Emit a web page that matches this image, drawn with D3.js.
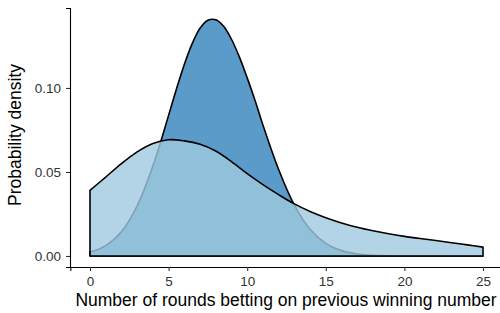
<!DOCTYPE html>
<html>
<head>
<meta charset="utf-8">
<script src="https://cdn.jsdelivr.net/npm/d3@7"></script>
<style>
  body { margin: 0; background: #fff; }
  text { font-family: "Liberation Sans", Arial, sans-serif; }
</style>
</head>
<body>
<svg id="chart" width="500" height="313"></svg>
<script>
// narrow (dark) density, read finer around its peak
var roundsA = [0,1,2,3,4,5,5.5,6,6.5,7,7.5,8,8.5,9,9.5,10,10.5,11,12,13,14,15,16,17,18,19,20,21,22,23,24,25];
var densityA = [0.0023,0.0062,0.0144,0.0298,0.0535,0.0837,0.0994,0.114,0.1264,0.1355,0.1403,0.1406,0.1367,0.129,0.1185,0.106,0.0926,0.078,0.0515,0.0303,0.0159,0.0075,0.0032,0.0012,0.0004,0.0001,0,0,0,0,0,0];
// wide (light) density
var roundsB = [0,1,2,3,4,5,6,7,8,9,10,11,12,13,14,15,16,17,18,19,20,21,22,23,24,25];
var densityB = [0.039,0.047,0.055,0.062,0.067,0.0692,0.0685,0.0665,0.0625,0.0562,0.049,0.0425,0.0365,0.031,0.0265,0.0228,0.0197,0.0171,0.015,0.0132,0.0117,0.0104,0.0092,0.0079,0.0066,0.0053];
var xTicks = [0,5,10,15,20,25];
var yTicks = [0,0.05,0.10];

var svg = d3.select("#chart");

var x = d3.scaleLinear().domain([-1.25, 26.25]).range([70.35, 502.65]);
var y = d3.scaleLinear().domain([-0.00655, 0.1476]).range([267, 8]);

function areaPath(xs, vals) {
  var pts = xs.map(function(r,i) { return [r, vals[i]]; });
  var area = d3.area()
    .x(function(d) { return x(d[0]); })
    .y0(y(0)).y1(function(d) { return y(Math.max(0, d[1])); })
    .curve(d3.curveCatmullRom.alpha(0.5));
  return area(pts) ;
}

svg.append("path").attr("d", areaPath(roundsA, densityA))
  .style("fill", "#5b9bc9").style("stroke", "#000").style("stroke-width", 1.6)
  .style("stroke-linejoin", "round");

svg.append("path").attr("d", areaPath(roundsB, densityB))
  .style("fill", "rgb(159,201,224)").style("fill-opacity", 0.8)
  .style("stroke", "#000").style("stroke-width", 1.6)
  .style("stroke-linejoin", "round");

// axes
var xAxis = svg.append("g").attr("transform", "translate(0,267)")
  .call(d3.axisBottom(x).tickValues(xTicks).tickSize(4).tickPadding(5).tickFormat(d3.format("d")));
var yAxis = svg.append("g").attr("transform", "translate(70,0)")
  .call(d3.axisLeft(y).tickValues(yTicks).tickSize(4).tickPadding(5).tickFormat(d3.format(".2f")));

[xAxis, yAxis].forEach(function(g) {
  g.select(".domain").style("stroke", "#000").style("stroke-width", 1.1);
  g.selectAll(".tick line").style("stroke", "#333").style("stroke-width", 1.1);
  g.selectAll(".tick text").style("fill", "#333").style("font-size", "13.5px")
    .style("font-family", "'Liberation Sans', Arial, sans-serif");
});

svg.append("text").attr("x", 286).attr("y", 306).attr("text-anchor", "middle")
  .style("font-size", "17.5px").style("fill", "#000")
  .text("Number of rounds betting on previous winning number");

svg.append("text").attr("transform", "translate(21,135) rotate(-90)").attr("text-anchor", "middle")
  .style("font-size", "17.5px").style("fill", "#000")
  .text("Probability density");
</script>
</body>
</html>
